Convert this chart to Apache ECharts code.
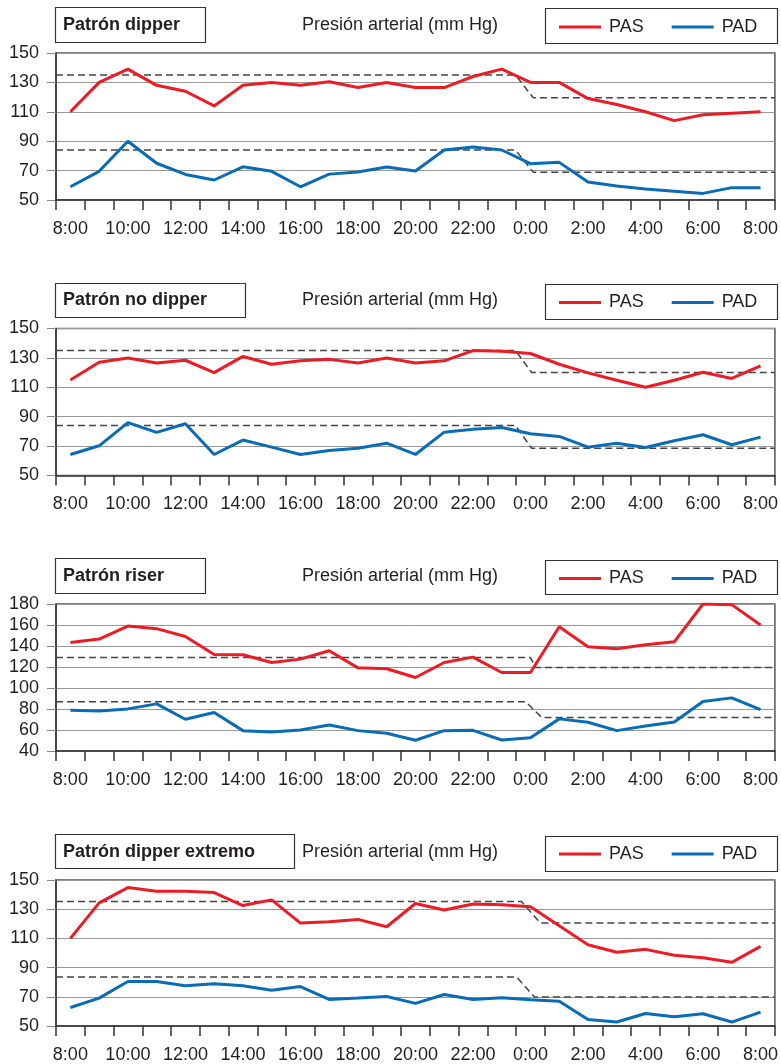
<!DOCTYPE html>
<html>
<head>
<meta charset="utf-8">
<script src="https://cdn.jsdelivr.net/npm/echarts@6/dist/echarts.min.js"></script>
<style>
html,body{margin:0;padding:0;background:#fff;}
#c{width:781px;height:1064px;}
</style>
</head>
<body>
<div id="c"></div>
<script>
// ---------- DATA ----------
const hours = ['8:00','9:00','10:00','11:00','12:00','13:00','14:00','15:00','16:00','17:00','18:00','19:00','20:00','21:00','22:00','23:00','0:00','1:00','2:00','3:00','4:00','5:00','6:00','7:00','8:00'];

const titles = ['Patrón dipper', 'Patrón no dipper', 'Patrón riser', 'Patrón dipper extremo'];
const unitLabel = 'Presión arterial (mm Hg)';
const seriesNames = ['PAS', 'PAD'];

// Patrón dipper
const dipperPAS = [110,130,139,128,124,114,128,130,128,130.5,126.5,130,126.5,126.5,134,139,130,130,119,115,110,104,108,109,110];
const dipperPAD = [59,69.5,90,75,67.4,63.6,72.6,69.5,59,67.6,69,72.4,69.7,84,86,84,74.7,75.6,62.2,59.5,57.5,56,54.5,58.4,58.4];
// Patrón no dipper
const noDipperPAS = [115,127,130,126.6,128.4,120,131,125.7,128,129,126.6,130,126.6,128,135,134.5,133,125.7,119.8,114.8,110,114.8,120.2,116,124.5];
const noDipperPAD = [64.3,70.2,86,79.3,85.2,64.3,74.1,69.3,64.3,67,68.6,72,64.3,79.5,81.4,82.7,78.4,76.6,69.3,72,69,73.6,77.7,70.9,76.1];
// Patrón riser
const riserPAS = [143.4,146.6,159,156.5,149,132,131.6,124.3,127.5,135.5,119.2,118.3,110,124.3,129.4,114.8,114.8,158.4,139.3,137.4,141.2,144,180,179.4,160];
const riserPAD = [78.8,78.2,80.1,84.9,70.2,76.6,59.4,58.1,60,64.8,59.4,56.9,50.2,59.4,59.7,50.5,52.7,70.6,67.4,59.4,63.9,67.7,87.1,90.6,79.5];
// Patrón dipper extremo
const extremePAS = [110,134.3,144.8,142.3,142.3,141.4,132.5,136.4,120.5,121.4,123,118,133.9,129.5,133.6,133,131.6,118.6,105.7,100.5,102.5,98.4,96.8,93.6,104.5];
const extremePAD = [62.7,69.1,80.5,80.5,77.5,78.9,77.5,74.5,77,68.2,69.1,70.2,65.5,71.6,68.2,69.3,68,67,54.5,52.7,58.6,56.4,58.4,52.7,59.5];

// reference limits: [day, night, hour index where day ends, hour index where night starts]
const dipperSysLimit   = [135, 119.5, 15.48, 16.1];
const dipperDiaLimit   = [84, 68.8, 15.48, 16.1];
const noDipperSysLimit = [135, 120, 15.48, 16.04];
const noDipperDiaLimit = [84, 68.5, 15.48, 16.04];
const riserSysLimit    = [129, 119.5, 16.0, 16.18];
const riserDiaLimit    = [87, 72, 15.83, 16.39];
const extremeSysLimit  = [135.2, 120.5, 15.69, 16.35];
const extremeDiaLimit  = [83.6, 69.8, 15.52, 16.14];

// y axis ranges
const yRanges = [[50,150,20],[50,150,20],[40,180,20],[50,150,20]];

// ---------- LAYOUT ----------
const RED = '#ed1c24', BLUE = '#0a6cb6', TXT = '#231f20';
const FONT = 'Liberation Sans';
const panels = [
  {pas: dipperPAS, pad: dipperPAD, sys: dipperSysLimit, dia: dipperDiaLimit, top: 53, box: [55,7,150,35], leg: [545,8,232,35], mid: 25},
  {pas: noDipperPAS, pad: noDipperPAD, sys: noDipperSysLimit, dia: noDipperDiaLimit, top: 328.5, box: [55,283,190,34], leg: [545,284,232,35], mid: 300.5},
  {pas: riserPAS, pad: riserPAD, sys: riserSysLimit, dia: riserDiaLimit, top: 604, box: [55,558,150,35], leg: [545,560,232,34], mid: 576.5},
  {pas: extremePAS, pad: extremePAD, sys: extremeSysLimit, dia: extremeDiaLimit, top: 880, box: [55,834,239,34], leg: [545,836,232,35], mid: 852}
];

function limitLine(l) {
  return [[-0.5, l[0]], [l[2], l[0]], [l[3], l[1]], [24.5, l[1]]];
}

const grid = [], xAxis = [], yAxis = [], series = [], legend = [], graphic = [];
panels.forEach((p, i) => {
  grid.push({left: 56, right: 4, top: p.top, height: 147, show: true, borderColor: '#555', borderWidth: 1.5, containLabel: false});
  xAxis.push({
    type: 'category', gridIndex: i, data: hours, boundaryGap: true,
    axisLine: {onZero: false, lineStyle: {color: '#333', width: 1.5}},
    axisTick: {show: true, interval: 0, length: 10, lineStyle: {color: '#333', width: 1.5}},
    axisLabel: {interval: 1, color: TXT, fontSize: 18, fontFamily: FONT, margin: 20},
    splitLine: {show: false}
  });
  xAxis.push({type: 'value', gridIndex: i, min: -0.5, max: 24.5, show: false, axisLine: {onZero: false}});
  const r = yRanges[i];
  yAxis.push({
    type: 'value', gridIndex: i, min: r[0], max: r[1], interval: r[2],
    axisLine: {show: true, onZero: false, lineStyle: {color: '#333', width: 1.5}},
    axisTick: {show: true, length: 9, lineStyle: {color: '#888'}},
    axisLabel: {color: TXT, fontSize: 18, fontFamily: FONT, margin: 17},
    splitLine: {show: true, lineStyle: {color: '#999', width: 1}}
  });
  const dashStyle = {color: '#444', width: 1.5, type: [7, 4]};
  series.push({type: 'line', name: 'lim' + i + 's', xAxisIndex: 2*i+1, yAxisIndex: i, data: limitLine(p.sys), symbol: 'none', lineStyle: dashStyle, silent: true, z: 2});
  series.push({type: 'line', name: 'lim' + i + 'd', xAxisIndex: 2*i+1, yAxisIndex: i, data: limitLine(p.dia), symbol: 'none', lineStyle: dashStyle, silent: true, z: 2});
  series.push({type: 'line', name: seriesNames[0], xAxisIndex: 2*i, yAxisIndex: i, data: p.pas, symbol: 'none', lineStyle: {color: RED, width: 3}, itemStyle: {color: RED}, z: 3});
  series.push({type: 'line', name: seriesNames[1], xAxisIndex: 2*i, yAxisIndex: i, data: p.pad, symbol: 'none', lineStyle: {color: BLUE, width: 3}, itemStyle: {color: BLUE}, z: 3});
  legend.push({
    data: seriesNames, left: 559, top: p.mid - 7, padding: 0, itemGap: 28,
    itemWidth: 42, itemHeight: 3, icon: 'rect', selectedMode: false,
    textStyle: {fontSize: 18, fontFamily: FONT, color: TXT, padding: [0, 0, 0, 3]}
  });
  graphic.push({type: 'rect', shape: {x: p.box[0] + 0.5, y: p.box[1] + 0.5, width: p.box[2], height: p.box[3]}, style: {fill: 'none', stroke: '#333', lineWidth: 1.2}});
  graphic.push({type: 'rect', shape: {x: p.leg[0] + 0.5, y: p.leg[1] + 0.5, width: p.leg[2], height: p.leg[3]}, style: {fill: 'none', stroke: '#333', lineWidth: 1.2}});
  graphic.push({type: 'text', x: 63, y: p.mid, style: {text: titles[i], font: 'bold 18px "' + FONT + '"', fill: TXT, textVerticalAlign: 'middle'}});
  graphic.push({type: 'text', x: 302, y: p.mid, style: {text: unitLabel, font: '18px "' + FONT + '"', fill: TXT, textVerticalAlign: 'middle'}});
});

const chart = echarts.init(document.getElementById('c'), null, {renderer: 'canvas'});
chart.setOption({
  animation: false,
  backgroundColor: '#fff',
  grid, xAxis, yAxis, series, legend, graphic
});
</script>
</body>
</html>
